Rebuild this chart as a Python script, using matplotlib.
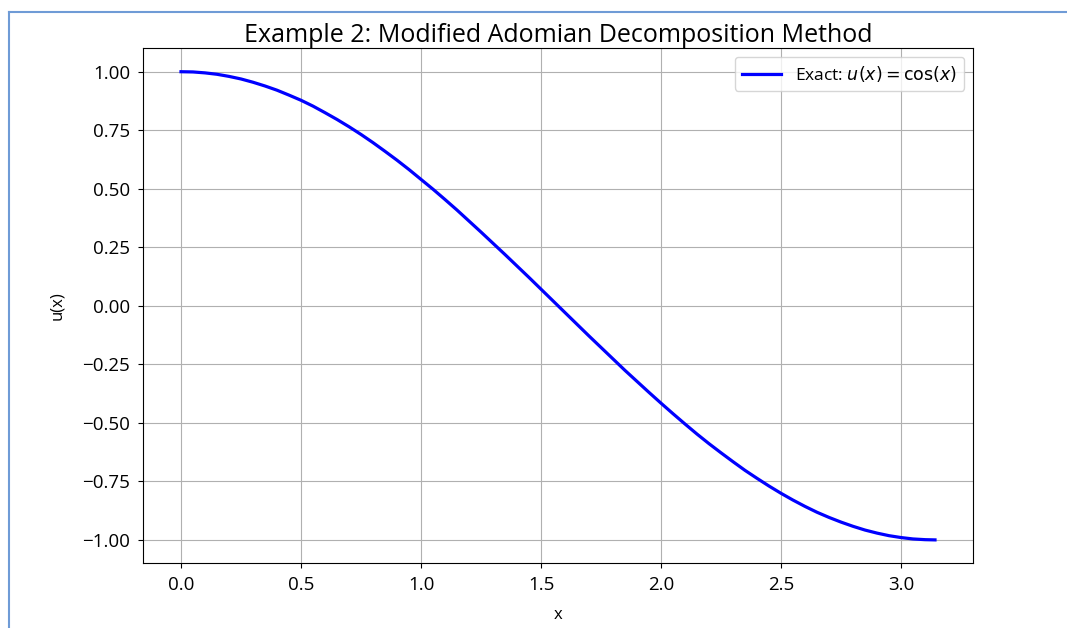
import matplotlib
matplotlib.use("Agg")
import matplotlib.pyplot as plt
from matplotlib.lines import Line2D

plt.rcParams['font.family'] = ['Open Sans', 'DejaVu Sans']
plt.rcParams['mathtext.fontset'] = 'dejavusans'

x_vals = [0.00, 0.05, 0.10, 0.15, 0.20, 0.25, 0.30, 0.35, 0.40, 0.45, 0.50,
          0.55, 0.60, 0.65, 0.70, 0.75, 0.80, 0.85, 0.90, 0.95, 1.00, 1.05,
          1.10, 1.15, 1.20, 1.25, 1.30, 1.35, 1.40, 1.45, 1.50, 1.55, 1.60,
          1.65, 1.70, 1.75, 1.80, 1.85, 1.90, 1.95, 2.00, 2.05, 2.10, 2.15,
          2.20, 2.25, 2.30, 2.35, 2.40, 2.45, 2.50, 2.55, 2.60, 2.65, 2.70,
          2.75, 2.80, 2.85, 2.90, 2.95, 3.00, 3.05, 3.10, 3.1416]
u_vals = [1.000, 0.999, 0.995, 0.989, 0.980, 0.969, 0.955, 0.939, 0.921, 0.900,
          0.878, 0.853, 0.825, 0.796, 0.765, 0.732, 0.697, 0.660, 0.622, 0.582,
          0.540, 0.498, 0.454, 0.409, 0.362, 0.315, 0.267, 0.219, 0.170, 0.121,
          0.071, 0.021, -0.029, -0.079, -0.129, -0.178, -0.227, -0.276, -0.323,
          -0.370, -0.416, -0.461, -0.505, -0.548, -0.589, -0.628, -0.666,
          -0.703, -0.737, -0.770, -0.801, -0.830, -0.857, -0.882, -0.904,
          -0.924, -0.942, -0.958, -0.971, -0.982, -0.990, -0.996, -0.999, -1.000]

title = "Example 2: Modified Adomian Decomposition Method"
legend_label = r"Exact: $u(x) = \cos(x)$"

fig = plt.figure(figsize=(10.67, 6.28), dpi=100)
ax = fig.add_axes([143.3 / 1067, 1 - 563.3 / 628, (972.7 - 143.3) / 1067, (563.3 - 48.3) / 628])

ax.plot(x_vals, u_vals, color='#0000ff', linewidth=2.3, label=legend_label,
        solid_joinstyle='round')
ax.set_title(title, fontsize=18, pad=4)
ax.set_xlabel("x", fontsize=12, labelpad=9)
ax.set_ylabel("u(x)", fontsize=12, labelpad=12)
ax.tick_params(labelsize=13.5, pad=6)
ax.grid(True, color='#b0b0b0', linewidth=0.8)
ax.legend(loc='upper right', fontsize=12.5, handlelength=2.3)

# Screenshot border
fig.add_artist(Line2D([9 / 1067, 1], [1 - 12 / 628, 1 - 12 / 628], transform=fig.transFigure,
                      color='#6f9bd6', linewidth=1.5))
fig.add_artist(Line2D([9 / 1067, 9 / 1067], [0, 1 - 12 / 628], transform=fig.transFigure,
                      color='#6f9bd6', linewidth=1.5))

fig.savefig("out.png", dpi=100)
